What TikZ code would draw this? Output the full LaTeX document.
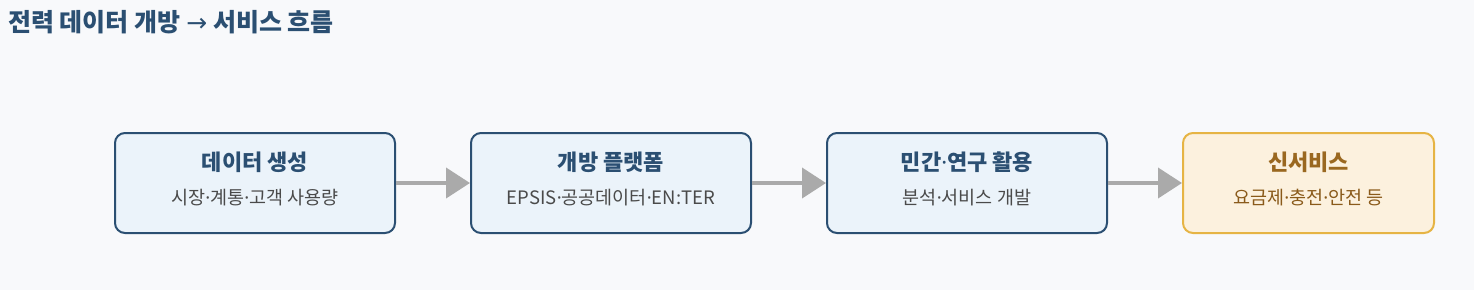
\documentclass[tikz,border=0pt]{standalone}
\usepackage{fontspec}
\setmainfont{Noto Sans CJK KR}
\newfontfamily\dotfont{Noto Sans}
\newfontfamily\arrowfont{DejaVu Sans}
\newcommand{\md}{{\dotfont ·}}
\usetikzlibrary{arrows.meta}
\definecolor{bg}{HTML}{F8F9FB}
\definecolor{bluefill}{HTML}{EBF3FA}
\definecolor{blueline}{HTML}{2B4F72}
\definecolor{subgray}{HTML}{4A4A4A}
\definecolor{goldfill}{HTML}{FCF1DE}
\definecolor{goldline}{HTML}{E6B444}
\definecolor{goldtext}{HTML}{9A6820}
\definecolor{goldsub}{HTML}{8A5A1A}
\definecolor{arrowgray}{HTML}{AAAAAA}
\tikzset{
  stagebox/.style={draw=blueline, fill=bluefill, line width=2pt, rounded corners=10pt, minimum width=280pt, minimum height=100pt, inner sep=0pt},
  goldbox/.style={draw=goldline, fill=goldfill, line width=2pt, rounded corners=10pt, minimum width=251pt, minimum height=100pt, inner sep=0pt},
  boxtitle/.style={font=\fontsize{22}{24}\selectfont\bfseries, text=blueline, inner sep=0pt},
  boxsub/.style={font=\fontsize{18.5}{20}\selectfont, text=subgray, inner sep=0pt},
  goldtitle/.style={font=\fontsize{22}{24}\selectfont\bfseries, text=goldtext, inner sep=0pt},
  goldsubtext/.style={font=\fontsize{18.5}{20}\selectfont, text=goldsub, inner sep=0pt},
  flow/.style={draw=arrowgray, line width=4pt, -{Triangle[length=24pt,width=30pt]}, color=arrowgray}
}
\begin{document}
\begin{tikzpicture}[x=1pt,y=-1pt]
\fill[bg] (0,0) rectangle (1474,290);
\useasboundingbox (0,0) rectangle (1474,290);
\node[anchor=west, font=\fontsize{25}{27}\selectfont\bfseries, text=blueline, inner sep=0pt] (title) at (8,22.5) {전력 데이터 개방 {\arrowfont\mdseries →} 서비스 흐름};
\node[stagebox] (b1) at (255,183) {};
\node[stagebox] (b2) at (611,183) {};
\node[stagebox] (b3) at (967,183) {};
\node[goldbox] (b4) at (1308.5,183) {};
\node[boxtitle] (t1) at (255,162.5) {데이터 생성};
\node[boxsub] (s1) at (255,197.5) {시장\md 계통\md 고객 사용량};
\node[boxtitle] (t2) at (611,162.5) {개방 플랫폼};
\node[boxsub] (s2) at (611,197.5) {EPSIS\md 공공데이터\md EN:TER};
\node[boxtitle] (t3) at (967,162.5) {민간\md 연구 활용};
\node[boxsub] (s3) at (967,197.5) {분석\md 서비스 개발};
\node[goldtitle] (t4) at (1308.5,162.5) {신서비스};
\node[goldsubtext] (s4) at (1308.5,197.5) {요금제\md 충전\md 안전 등};
\draw[flow] (b1.east) -- (b2.west);
\draw[flow] (b2.east) -- (b3.west);
\draw[flow] (b3.east) -- (b4.west);
\end{tikzpicture}
\end{document}
